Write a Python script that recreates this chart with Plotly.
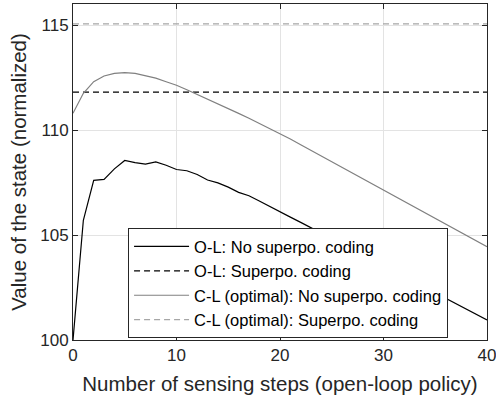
import plotly.graph_objects as go

steps = list(range(0, 41))

ol_no_superpo = [100.0, 105.7, 107.6, 107.65, 108.15, 108.55, 108.45, 108.38, 108.48, 108.32,
                 108.12, 108.06, 107.88, 107.62, 107.48, 107.28, 107.03, 106.87, 106.62, 106.35,
                 106.1, 105.85, 105.6, 105.35, 105.1, 104.85, 104.58, 104.32, 104.06, 103.8,
                 103.54, 103.28, 103.02, 102.76, 102.5, 102.24, 101.98, 101.72, 101.46, 101.2,
                 100.95]

cl_no_superpo = [110.8, 111.75, 112.3, 112.57, 112.7, 112.73, 112.7, 112.6, 112.47, 112.3,
                 112.13, 111.92, 111.7, 111.48, 111.25, 111.02, 110.79, 110.56, 110.32, 110.08,
                 109.84, 109.57, 109.30, 109.03, 108.76, 108.49, 108.22, 107.95, 107.68, 107.41,
                 107.14, 106.87, 106.6, 106.33, 106.06, 105.79, 105.52, 105.25, 104.98, 104.71,
                 104.44]

ol_superpo_value = 111.8
cl_superpo_value = 115.05

x_ticks = [0, 10, 20, 30, 40]
y_ticks = [100, 105, 110, 115]

names = ["O-L: No superpo. coding", "O-L: Superpo. coding",
         "C-L (optimal): No superpo. coding", "C-L (optimal): Superpo. coding"]

fig = go.Figure()
fig.add_trace(go.Scatter(x=steps, y=ol_no_superpo, mode="lines", name=names[0],
                         line=dict(color="black", width=1.2)))
fig.add_trace(go.Scatter(x=steps, y=[ol_superpo_value] * len(steps), mode="lines", name=names[1],
                         line=dict(color="black", width=1.2, dash="6px,4px")))
fig.add_trace(go.Scatter(x=steps, y=cl_no_superpo, mode="lines", name=names[2],
                         line=dict(color="#808080", width=1.2)))
fig.add_trace(go.Scatter(x=steps, y=[cl_superpo_value] * len(steps), mode="lines", name=names[3],
                         line=dict(color="#a6a6a6", width=1.2, dash="6px,4px")))

axis_common = dict(
    showline=True, linecolor="#262626", linewidth=1, mirror="ticks",
    ticks="inside", ticklen=5, tickcolor="#262626",
    showgrid=True, gridcolor="#e3e3e3", gridwidth=1, zeroline=False,
    tickfont=dict(size=17, color="#262626"), automargin=False,
    ticklabeloverflow="allow",
)

fig.update_layout(
    width=496, height=404,
    margin=dict(l=73, r=9, t=4, b=64),
    paper_bgcolor="white", plot_bgcolor="white",
    font=dict(family="Liberation Sans, Arial, sans-serif", color="#262626"),
    xaxis=dict(range=[0, 40], tickvals=x_ticks,
               title=dict(text="Number of sensing steps (open-loop policy)", font=dict(size=20.5), standoff=12),
               **axis_common),
    yaxis=dict(range=[100, 116], tickvals=y_ticks,
               title=dict(text="Value of the state (normalized)", font=dict(size=20.5), standoff=8),
               **axis_common),
    legend=dict(x=0.133, y=0.333, xanchor="left", yanchor="top",
                bgcolor="white", bordercolor="#262626", borderwidth=1,
                font=dict(size=16.5, color="black"), itemwidth=55,
                tracegroupgap=0, traceorder="normal"),
    showlegend=True,
)

fig.write_html("out.html", config={"displayModeBar": False},
               post_script="document.body.style.margin='0';")
